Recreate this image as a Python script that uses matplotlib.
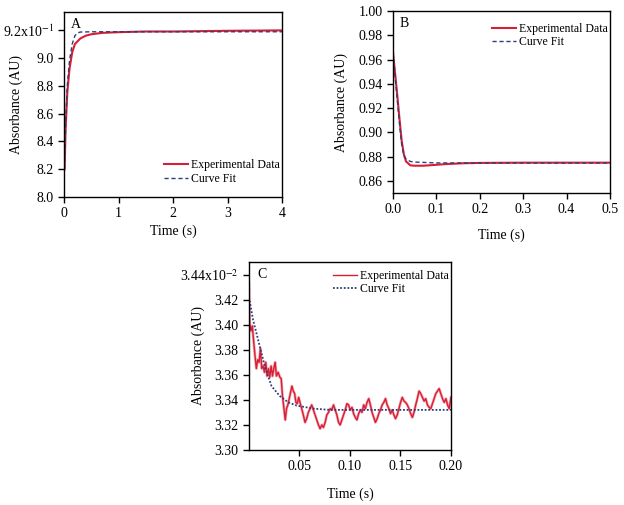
import matplotlib.pyplot as plt

plt.rcParams['font.family'] = ['Liberation Serif', 'DejaVu Serif']
plt.rcParams['mathtext.fontset'] = 'stix'
plt.rcParams['font.size'] = 10

# panel A
a_time = [0.01, 0.03, 0.06, 0.1, 0.15, 0.2, 0.3, 0.4, 0.5, 0.7, 1.0, 1.5, 2, 3, 4]
a_exp = [8.20, 8.50, 8.75, 8.92, 9.04, 9.10, 9.14, 9.16, 9.17, 9.18, 9.185, 9.19, 9.19, 9.195, 9.198]
a_fit_time = [0.01, 0.03, 0.06, 0.1, 0.15, 0.2, 0.25, 0.3, 0.5, 1, 2, 3, 4]
a_fit = [8.20, 8.53, 8.80, 8.98, 9.10, 9.16, 9.18, 9.186, 9.188, 9.188, 9.188, 9.188, 9.188]

# panel B
b_time = [0, 0.005, 0.01, 0.015, 0.02, 0.025, 0.03, 0.04, 0.05, 0.07, 0.09, 0.12, 0.16, 0.2, 0.3, 0.4, 0.5]
b_exp = [0.966, 0.948, 0.930, 0.911, 0.893, 0.882, 0.876, 0.8728, 0.8725, 0.8725, 0.873, 0.8738,
         0.8745, 0.8748, 0.875, 0.875, 0.875]
b_fit_time = [0, 0.005, 0.01, 0.015, 0.02, 0.025, 0.03, 0.04, 0.05, 0.1, 0.2, 0.3, 0.4, 0.5]
b_fit = [0.966, 0.946, 0.926, 0.907, 0.890, 0.881, 0.878, 0.876, 0.8755, 0.8748, 0.8747,
         0.8747, 0.8747, 0.8747]

# panel C
c_time = [0.0000, 0.0007, 0.0020, 0.0033, 0.0047, 0.0060, 0.0073, 0.0086, 0.0100, 0.0113,
          0.0126, 0.0140, 0.0153, 0.0166, 0.0179, 0.0193, 0.0206, 0.0219, 0.0233, 0.0246,
          0.0259, 0.0272, 0.0289, 0.0306, 0.0319, 0.0332, 0.0346, 0.0359, 0.0372, 0.0385,
          0.0399, 0.0412, 0.0425, 0.0439, 0.0452, 0.0465, 0.0478, 0.0492, 0.0505, 0.0522,
          0.0538, 0.0555, 0.0571, 0.0588, 0.0605, 0.0621, 0.0638, 0.0654, 0.0671, 0.0688,
          0.0704, 0.0721, 0.0737, 0.0754, 0.0771, 0.0787, 0.0804, 0.0820, 0.0837, 0.0854,
          0.0870, 0.0887, 0.0903, 0.0920, 0.0937, 0.0953, 0.0970, 0.0986, 0.1003, 0.1020,
          0.1036, 0.1053, 0.1069, 0.1086, 0.1103, 0.1119, 0.1136, 0.1152, 0.1169, 0.1186,
          0.1202, 0.1219, 0.1235, 0.1252, 0.1269, 0.1285, 0.1302, 0.1319, 0.1335, 0.1352,
          0.1368, 0.1385, 0.1402, 0.1418, 0.1435, 0.1451, 0.1468, 0.1485, 0.1501, 0.1518,
          0.1535, 0.1551, 0.1568, 0.1584, 0.1601, 0.1618, 0.1634, 0.1651, 0.1667, 0.1684,
          0.1701, 0.1717, 0.1734, 0.1750, 0.1767, 0.1784, 0.1800, 0.1817, 0.1833, 0.1850,
          0.1867, 0.1883, 0.1900, 0.1916, 0.1933, 0.1950, 0.1966, 0.1983, 0.2000]
c_exp = [3.433, 3.401, 3.395, 3.399, 3.386, 3.375, 3.365, 3.372, 3.370, 3.381,
         3.365, 3.367, 3.362, 3.370, 3.359, 3.365, 3.358, 3.367, 3.359, 3.365,
         3.370, 3.359, 3.362, 3.358, 3.357, 3.343, 3.333, 3.324, 3.333, 3.336,
         3.341, 3.346, 3.351, 3.347, 3.345, 3.338, 3.337, 3.342, 3.338, 3.333,
         3.328, 3.322, 3.325, 3.330, 3.333, 3.336, 3.332, 3.328, 3.324, 3.320,
         3.317, 3.320, 3.318, 3.322, 3.328, 3.330, 3.333, 3.332, 3.336, 3.332,
         3.328, 3.322, 3.320, 3.324, 3.328, 3.332, 3.337, 3.336, 3.332, 3.334,
         3.329, 3.326, 3.324, 3.329, 3.332, 3.330, 3.336, 3.333, 3.338, 3.341,
         3.336, 3.330, 3.326, 3.322, 3.325, 3.329, 3.332, 3.336, 3.338, 3.341,
         3.336, 3.333, 3.329, 3.332, 3.328, 3.325, 3.328, 3.333, 3.338, 3.342,
         3.339, 3.338, 3.336, 3.333, 3.329, 3.326, 3.330, 3.336, 3.341, 3.347,
         3.345, 3.342, 3.339, 3.341, 3.336, 3.334, 3.333, 3.337, 3.341, 3.345,
         3.347, 3.349, 3.345, 3.341, 3.338, 3.341, 3.336, 3.333, 3.342]
c_fit_time = [0, 0.004, 0.0106, 0.0156, 0.0223, 0.0306, 0.039, 0.047, 0.064, 0.08, 0.1, 0.15, 0.2]
c_fit = [3.422, 3.404, 3.383, 3.367, 3.351, 3.343, 3.338, 3.3355, 3.333, 3.332, 3.332, 3.332, 3.332]

red = '#d81e34'
blue = '#2c3f7a'
leg_kw = dict(frameon=False, handlelength=2.0, handletextpad=0.25, labelspacing=0.12,
              fontsize=8.5, borderpad=0.2, borderaxespad=0.0)

fig = plt.figure(figsize=(6.24, 5.05), dpi=100)

def style(ax):
    for s in ax.spines.values():
        s.set_linewidth(1.0)
    ax.tick_params(direction='out', length=4, width=1, labelsize=10, top=False, right=False)

# A
ax = fig.add_axes([0.1026, 0.6099, 0.3494, 0.3663])
ax.plot(a_time, a_exp, color=red, lw=1.5, label='Experimental Data')
ax.plot(a_fit_time, a_fit, color=blue, lw=1.0, ls=(0, (3, 2)), label='Curve Fit')
ax.set_xlim(0, 4)
ax.set_ylim(8.0, 9.33)
ax.set_xticks([0, 1, 2, 3, 4])
ax.set_yticks([8.0, 8.2, 8.4, 8.6, 8.8, 9.0, 9.2])
ax.set_yticklabels(['8.0', '8.2', '8.4', '8.6', '8.8', '9.0', r'9.2x10$^{-1}$'])
ax.set_xlabel('Time (s)', labelpad=3)
ax.set_ylabel('Absorbance (AU)')
ax.yaxis.set_label_coords(-0.19, 0.5)
ax.text(0.055, 0.935, 'A', transform=ax.transAxes, ha='center', va='center', fontsize=10)
ax.legend(loc='lower right', bbox_to_anchor=(1.0, 0.054), **leg_kw)
style(ax)

# B
ax = fig.add_axes([0.6298, 0.6178, 0.3478, 0.3604])
ax.plot(b_time, b_exp, color=red, lw=1.5, label='Experimental Data')
ax.plot(b_fit_time, b_fit, color=blue, lw=1.0, ls=(0, (3, 2)), label='Curve Fit')
ax.set_xlim(0, 0.5)
ax.set_ylim(0.85, 1.00)
ax.set_xticks([0.0, 0.1, 0.2, 0.3, 0.4, 0.5])
ax.set_xticklabels(['0.0', '0.1', '0.2', '0.3', '0.4', '0.5'])
ax.set_yticks([0.86, 0.88, 0.90, 0.92, 0.94, 0.96, 0.98, 1.00])
ax.set_yticklabels(['0.86', '0.88', '0.90', '0.92', '0.94', '0.96', '0.98', '1.00'])
ax.set_xlabel('Time (s)', labelpad=9)
ax.set_ylabel('Absorbance (AU)')
ax.yaxis.set_label_coords(-0.207, 0.5)
ax.text(0.05, 0.934, 'B', transform=ax.transAxes, ha='center', va='center', fontsize=10)
ax.legend(loc='upper right', bbox_to_anchor=(1.0, 0.948), **leg_kw)
style(ax)

# C
ax = fig.add_axes([0.3990, 0.1089, 0.3237, 0.3723])
ax.plot(c_time, c_exp, color='#f07080', lw=2.0, alpha=0.6)
ax.plot(c_time, c_exp, color=red, lw=1.0, label='Experimental Data')
ax.plot(c_fit_time, c_fit, color=blue, lw=1.3, ls=(0, (1, 1)), label='Curve Fit')
ax.set_xlim(0, 0.2)
ax.set_ylim(3.30, 3.45)
ax.set_xticks([0.05, 0.10, 0.15, 0.20])
ax.set_xticklabels(['0.05', '0.10', '0.15', '0.20'])
ax.set_yticks([3.30, 3.32, 3.34, 3.36, 3.38, 3.40, 3.42, 3.44])
ax.set_yticklabels(['3.30', '3.32', '3.34', '3.36', '3.38', '3.40', '3.42', r'3.44x10$^{-2}$'])
ax.set_xlabel('Time (s)', labelpad=10)
ax.set_ylabel('Absorbance (AU)')
ax.yaxis.set_label_coords(-0.217, 0.5)
ax.text(0.064, 0.936, 'C', transform=ax.transAxes, ha='center', va='center', fontsize=10)
ax.legend(loc='upper right', bbox_to_anchor=(1.0, 0.971), **leg_kw)
style(ax)

fig.savefig('out.png', dpi=100)
